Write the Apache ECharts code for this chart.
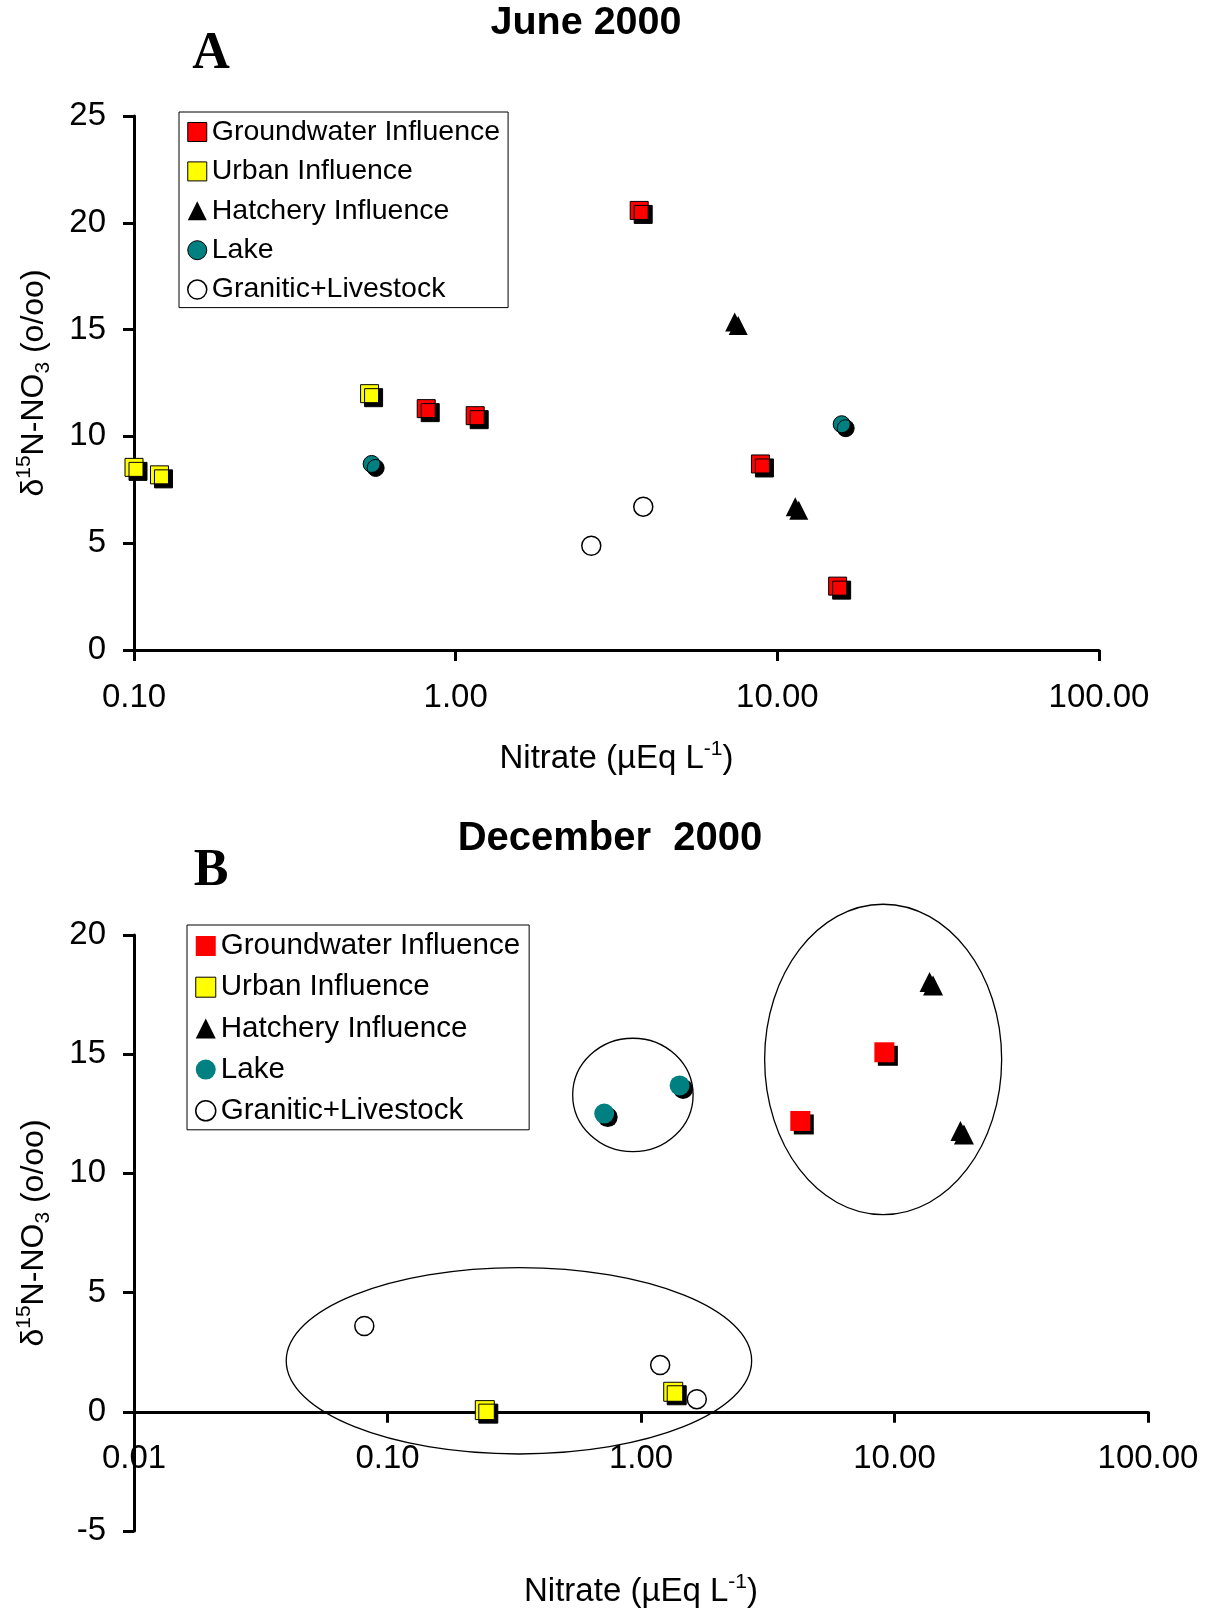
<!DOCTYPE html>
<html><head><meta charset="utf-8">
<script src="https://cdn.jsdelivr.net/npm/echarts@6/dist/echarts.min.js"></script>
<style>html,body{margin:0;padding:0;background:#fff}#c{width:1205px;height:1612px}</style>
</head><body><div id="c"></div>
<script>
// ---------- DATA ----------
const seriesNames = ['Groundwater Influence', 'Urban Influence', 'Hatchery Influence', 'Lake', 'Granitic+Livestock'];

// Panel A – June 2000 (x: Nitrate µEq/L, y: δ15N-NO3 o/oo)
const juneGroundX = [0.81, 1.15, 3.72, 8.86, 15.4];
const juneGroundY = [11.3, 10.97, 20.58, 8.71, 2.99];
const juneUrbanX = [0.10, 0.12, 0.54];
const juneUrbanY = [8.55, 8.2, 12.0];
const juneHatchX = [7.37, 11.37];
const juneHatchY = [15.35, 6.71];
const juneLakeX = [0.548, 15.85];
const juneLakeY = [8.71, 10.57];
const juneGranX = [2.64, 3.83];
const juneGranY = [4.88, 6.71];

// Panel B – December 2000
const decGroundX = [4.25, 9.12];
const decGroundY = [12.2, 15.08];
const decUrbanX = [0.242, 1.34];
const decUrbanY = [0.07, 0.84];
const decHatchX = [13.75, 18.2];
const decHatchY = [18.03, 11.78];
const decLakeX = [0.716, 1.42];
const decLakeY = [12.51, 13.69];
const decGranX = [0.081, 1.19, 1.66];
const decGranY = [3.6, 1.96, 0.53];

// Grouping ellipses in panel B (centre in data units, half-widths in decades / δ units)
const groupCenterX = [0.929, 9.02, 0.33];
const groupCenterY = [13.29, 14.78, 2.14];
const groupHalfDecades = [0.2375, 0.4675, 0.918];
const groupHalfUnits = [2.38, 6.51, 3.91];

// Axis ranges
const juneXRange = [0.1, 100];
const juneYRange = [0, 25];
const decXRange = [0.01, 100];
const decYRange = [-5, 20];
const decYPositive = [0, 20];
const yInterval = 5;

// ---------- CHART ----------
const FONT = '"Liberation Sans", Arial, sans-serif';
const chart = echarts.init(document.getElementById('c'), null, {renderer: 'canvas'});
const pairs = (xs, ys) => xs.map((x, i) => [x, ys[i]]);
const shadow = o => ({shadowColor: '#000', shadowBlur: 0, shadowOffsetX: o, shadowOffsetY: o});

const RED = '#ff0000', YEL = '#ffff00', TEAL = '#008080';

const styleA = [
  {symbol: 'rect', size: 18, item: {color: RED, borderColor: '#000', borderWidth: 1, ...shadow(4)}},
  {symbol: 'rect', size: 18, item: {color: YEL, borderColor: '#000', borderWidth: 1, ...shadow(4)}},
  {symbol: 'triangle', size: [19, 19], item: {color: '#000', ...shadow(3.5)}},
  {symbol: 'circle', size: 17, item: {color: TEAL, borderColor: '#000', borderWidth: 1, ...shadow(4)}},
  {symbol: 'circle', size: 19, item: {color: '#fff', borderColor: '#000', borderWidth: 1.5}}
];
const styleB = [
  {symbol: 'rect', size: 20, item: {color: RED, ...shadow(3.5)}},
  {symbol: 'rect', size: 19, item: {color: YEL, borderColor: '#000', borderWidth: 1, ...shadow(3.5)}},
  {symbol: 'triangle', size: [20, 20], item: {color: '#000', ...shadow(3.5)}},
  {symbol: 'circle', size: 20, item: {color: TEAL, ...shadow(3.5)}},
  {symbol: 'circle', size: 19, item: {color: '#fff', borderColor: '#000', borderWidth: 1.5}}
];

const juneData = [pairs(juneGroundX, juneGroundY), pairs(juneUrbanX, juneUrbanY), pairs(juneHatchX, juneHatchY), pairs(juneLakeX, juneLakeY), pairs(juneGranX, juneGranY)];
const decData = [pairs(decGroundX, decGroundY), pairs(decUrbanX, decUrbanY), pairs(decHatchX, decHatchY), pairs(decLakeX, decLakeY), pairs(decGranX, decGranY)];

const series = [];
seriesNames.forEach((n, i) => {
  series.push({type: 'scatter', name: n, xAxisIndex: 0, yAxisIndex: 0, data: juneData[i], clip: false,
    symbol: styleA[i].symbol, symbolSize: styleA[i].size, itemStyle: {opacity: 1, ...styleA[i].item}, z: 3, emphasis: {disabled: true}});
});
seriesNames.forEach((n, i) => {
  series.push({type: 'scatter', name: n, xAxisIndex: 1, yAxisIndex: 1, data: decData[i], clip: false,
    symbol: styleB[i].symbol, symbolSize: styleB[i].size, itemStyle: {opacity: 1, ...styleB[i].item}, z: 3, emphasis: {disabled: true}});
});

const legendItems = styles => seriesNames.map((n, i) => {
  const it = styles[i].item;
  const st = {color: it.color, opacity: 1, borderColor: it.borderColor || it.color, borderWidth: it.borderWidth || 0,
    shadowBlur: 0, shadowOffsetX: 0, shadowOffsetY: 0, shadowColor: 'rgba(0,0,0,0)'};
  return {name: n, icon: styles[i].symbol, itemStyle: st};
});

const txt = {fontFamily: FONT, color: '#000'};
const axisNameRich = {
  sup: {fontFamily: FONT, color: '#000', fontSize: 21, lineHeight: 24, verticalAlign: 'top'},
  sub: {fontFamily: FONT, color: '#000', fontSize: 21, lineHeight: 24, verticalAlign: 'bottom'}
};

function xAxisCfg(gridIndex, range, gap, visible) {
  return {
    gridIndex, type: 'log', logBase: 10, min: range[0], max: range[1], show: visible,
    axisLine: {show: true, onZero: false, lineStyle: {color: '#000', width: 3}},
    axisTick: {show: true, inside: false, length: 11, lineStyle: {color: '#000', width: 3}},
    axisLabel: {show: true, margin: 31, ...txt, fontSize: 33, formatter: v => Number(v).toFixed(2)},
    splitLine: {show: false}, minorTick: {show: false}, minorSplitLine: {show: false},
    name: visible ? 'Nitrate (µEq L{sup|-1})' : '', nameLocation: 'middle', nameGap: gap,
    nameTextStyle: {...txt, fontSize: 33, lineHeight: 40, rich: axisNameRich}
  };
}
function yAxisCfg(gridIndex, range, visible) {
  return {
    gridIndex, type: 'value', min: range[0], max: range[1], interval: yInterval, show: visible,
    axisLine: {show: true, onZero: false, lineStyle: {color: '#000', width: 3}},
    axisTick: {show: true, inside: false, length: 11, lineStyle: {color: '#000', width: 3}},
    axisLabel: {show: true, margin: 28, ...txt, fontSize: 33},
    splitLine: {show: false},
    name: visible ? 'δ{sup|15}N-NO{sub|3} (o/oo)' : '', nameLocation: 'middle', nameGap: 80,
    nameTextStyle: {...txt, fontSize: 32, lineHeight: 40, rich: axisNameRich}
  };
}

const option = {
  animation: false,
  backgroundColor: '#fff',
  grid: [
    {left: 134, top: 116, width: 965, height: 534, outerBoundsMode: 'none', containLabel: false},
    {left: 134, top: 935, width: 1014, height: 596, outerBoundsMode: 'none', containLabel: false},
    // carries panel B's x axis along the δ = 0 line
    {left: 134, top: 935, width: 1014, height: 596 * 20 / 25, outerBoundsMode: 'none', containLabel: false}
  ],
  xAxis: [xAxisCfg(0, juneXRange, 89, true), xAxisCfg(1, decXRange, 160, false), xAxisCfg(2, decXRange, 160, true)],
  yAxis: [yAxisCfg(0, juneYRange, true), yAxisCfg(1, decYRange, true), yAxisCfg(2, decYPositive, false)],
  legend: [
    {orient: 'vertical', left: 179, top: 112, padding: [5, 8, 3, 8], itemGap: 9.4, itemWidth: 19, itemHeight: 19,
      borderColor: '#000', borderWidth: 1, backgroundColor: '#fff', selectedMode: false,
      textStyle: {...txt, fontSize: 28.5, lineHeight: 30}, data: legendItems(styleA)},
    {orient: 'vertical', left: 187, top: 925, padding: [6, 9, 4, 8], itemGap: 11.2, itemWidth: 20, itemHeight: 20,
      borderColor: '#000', borderWidth: 1, backgroundColor: '#fff', selectedMode: false,
      textStyle: {...txt, fontSize: 29.6, lineHeight: 30}, data: legendItems(styleB)}
  ],
  series
};
chart.setOption(option);

// Annotations: titles, panel letters and group ellipses
const graphics = [
  {type: 'text', x: 586, y: 23, style: {text: 'June 2000', font: 'bold 39.5px ' + FONT, fill: '#000', textAlign: 'center', textVerticalAlign: 'middle'}},
  {type: 'text', x: 610, y: 839, style: {text: 'December  2000', font: 'bold 40px ' + FONT, fill: '#000', textAlign: 'center', textVerticalAlign: 'middle'}},
  {type: 'text', x: 211, y: 55, style: {text: 'A', font: 'bold 52px "Liberation Serif", "Times New Roman", serif', fill: '#000', textAlign: 'center', textVerticalAlign: 'middle'}},
  {type: 'text', x: 211, y: 872, style: {text: 'B', font: 'bold 52px "Liberation Serif", "Times New Roman", serif', fill: '#000', textAlign: 'center', textVerticalAlign: 'middle'}}
];
groupCenterX.forEach((cx, i) => {
  const cy = groupCenterY[i];
  const c = chart.convertToPixel({gridIndex: 1}, [cx, cy]);
  const r = chart.convertToPixel({gridIndex: 1}, [cx * Math.pow(10, groupHalfDecades[i]), cy]);
  const t = chart.convertToPixel({gridIndex: 1}, [cx, cy + groupHalfUnits[i]]);
  graphics.push({type: 'ellipse', z: 1, shape: {cx: c[0], cy: c[1], rx: Math.abs(r[0] - c[0]), ry: Math.abs(c[1] - t[1])},
    style: {fill: 'none', stroke: '#000', lineWidth: 1.3}});
});
chart.setOption({graphic: graphics});
</script></body></html>
